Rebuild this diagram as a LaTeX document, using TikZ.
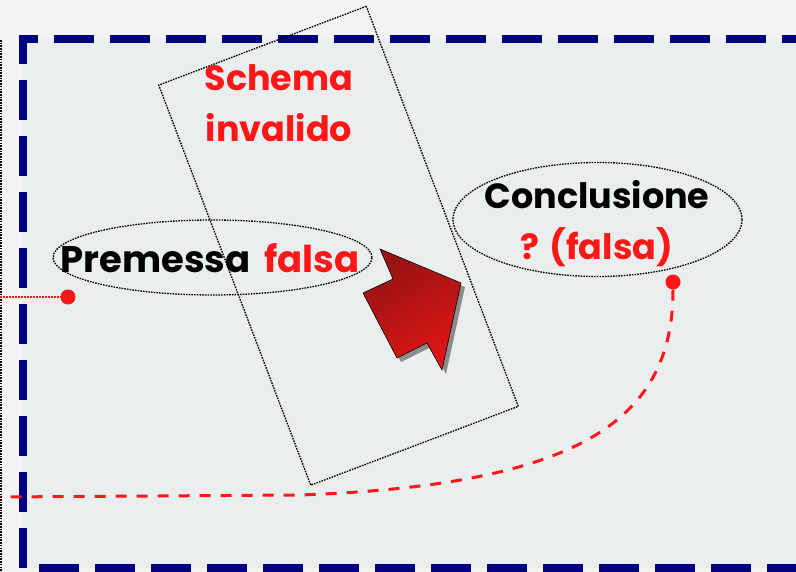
\documentclass[tikz,border=0pt]{standalone}
\usepackage{fontspec}
\setmainfont{Poppins}
\usetikzlibrary{shapes.geometric}

\definecolor{bgout}{RGB}{243,243,243}
\definecolor{bgin}{RGB}{235,238,238}
\definecolor{bordo}{RGB}{0,0,128}
\definecolor{rosso}{RGB}{255,22,22}
\definecolor{scuro}{RGB}{150,18,18}
\definecolor{chiaro}{RGB}{222,22,22}

\tikzset{
  puntini/.style={draw=black, line width=1.3pt, dash pattern=on 1.6pt off 1.1pt},
  ovale/.style={ellipse, puntini, inner sep=0pt},
  testo/.style={font=\fontsize{35}{51}\selectfont\bfseries},
  puntino/.style={circle, fill=rosso, inner sep=0pt, minimum size=15pt},
}

\begin{document}
\begin{tikzpicture}[x=1pt, y=-1pt]
    % background
    \useasboundingbox (0,0) rectangle (796,572);
    \clip (0,0) rectangle (796,572);
    \fill[bgout] (0,0) rectangle (796,572);
    \fill[bgin] (23,39) rectangle (796,568);

    % draw dashed frame
    \draw[bordo, line width=7.5pt, dash pattern=on 40pt off 16pt, dash phase=2pt]
      (820,39) -- (23,39) -- (23,568) -- (820,568);
    \draw[black, dash pattern=on 1.6pt off 1.1pt, line width=1.3pt] (1,40) -- (1,572);

    % draw nodes
    \node[ovale, minimum width=319pt, minimum height=75pt] (premessa) at (212.5,257.5) {};
    \node[testo, font=\fontsize{37}{51}\selectfont\bfseries, anchor=base] at (210,273)
      {Premessa\hspace{14pt}\textcolor{rosso}{falsa}};
    \node[ovale, minimum width=289pt, minimum height=114pt] (conclusione) at (597.5,219.5) {};
    \node[testo, anchor=base, align=center] at (597,260) {Conclusione\\\textcolor{rosso}{? (falsa)}};
    \node[puntini, rotate=20.8, minimum width=222pt, minimum height=428pt] (schema) at (338.5,245.75) {};
    \node[testo, text=rosso, anchor=base, align=center] (titolo) at (279,142) {Schema\\invalido};

    % draw arrow
    \fill[black!45, xshift=4pt, yshift=-4pt]
      (380,249) -- (393,279) -- (363,293) -- (397,358) -- (427,343) -- (442,370) -- (461,283) -- cycle;
    \shade[draw=black, line width=0.6pt, left color=scuro, right color=chiaro, shading angle=30]
      (380,249) -- (393,279) -- (363,293) -- (397,358) -- (427,343) -- (442,370) -- (461,283) -- cycle;

    % draw connectors
    \node[puntino] (pdot) at (68,297) {};
    \node[puntino] (cdot) at (673,282) {};
    \coordinate (pstart) at (0,297);
    \coordinate (cbend) at (300,495);
    \coordinate (cend) at (0,497);
    \draw[rosso, dash pattern=on 2pt off 1pt, line width=2pt] (pstart) -- (pdot);
    \draw[rosso, line width=3pt, dash pattern=on 11pt off 10pt]
      (cdot) .. controls (673,420) and (580,485) .. (cbend) -- (cend);
\end{tikzpicture}
\end{document}
